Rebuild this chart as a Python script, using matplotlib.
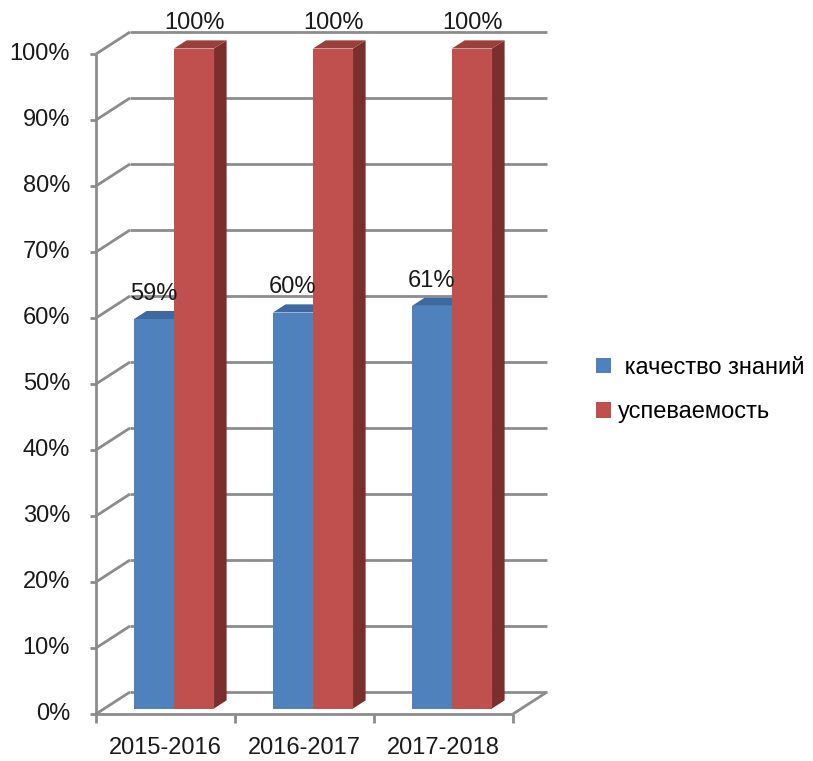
import numpy as np
import matplotlib.pyplot as plt
from matplotlib.patches import Polygon, Patch

# данные диаграммы
years = ["2015-2016", "2016-2017", "2017-2018"]
quality = [59, 60, 61]        # качество знаний, %
success = [100, 100, 100]     # успеваемость, %
series_names = [" качество знаний", "успеваемость"]
y_ticks = [0, 10, 20, 30, 40, 50, 60, 70, 80, 90, 100]

# цвета: лицевая грань, верх, бок
colors = [("#4F81BD", "#3E69A0", "#2F5383"),
          ("#C0504D", "#99403C", "#7B2F2D")]

# псевдо-3D: сдвиг глубины в единицах осей
DX = 34 / 139.0
DY = 22 / 6.6
FRONT, BACK = 0.25, 0.62
BAR_W = 0.288
FS = 17


def proj(u, v, d):
    return (u + d * DX, v + d * DY)


def draw_bar(ax, x0, val, cols):
    x1 = x0 + BAR_W
    front = [proj(x0, 0, FRONT), proj(x1, 0, FRONT), proj(x1, val, FRONT), proj(x0, val, FRONT)]
    top = [proj(x0, val, FRONT), proj(x1, val, FRONT), proj(x1, val, BACK), proj(x0, val, BACK)]
    side = [proj(x1, 0, FRONT), proj(x1, 0, BACK), proj(x1, val, BACK), proj(x1, val, FRONT)]
    ax.add_patch(Polygon(side, closed=True, fc=cols[2], ec="none", zorder=3))
    ax.add_patch(Polygon(top, closed=True, fc=cols[1], ec="none", zorder=3))
    ax.add_patch(Polygon(front, closed=True, fc=cols[0], ec="none", zorder=3))


def main():
    plt.rcParams['font.family'] = ['Liberation Sans', 'DejaVu Sans']
    fig = plt.figure(figsize=(8.13, 7.61), dpi=100)
    ax = fig.add_axes([0, 0, 1, 1])
    ax.set_xlim(-96 / 139.0, 717 / 139.0)
    ax.set_ylim(-47 / 6.6, 714 / 6.6)
    ax.axis("off")

    n = len(years)
    grid = dict(color="#8C8C8C", lw=2, zorder=1, solid_capstyle="butt")

    # стенка и сетка
    for t in y_ticks:
        x, y = zip(proj(0, t, 0), proj(0, t, 1))
        ax.plot(x, y, **grid)
        x, y = zip(proj(0, t, 1), proj(n, t, 1))
        ax.plot(x, y, **grid)
        ax.plot([-6 / 139.0, 0], [t, t], **grid)
        ax.text(-26 / 139.0, t, "{}%".format(t), ha="right", va="center",
                fontsize=FS, color="#1A1A1A")
    ax.plot([0, 0], [0, y_ticks[-1]], **grid)

    # пол
    ax.plot([0, n], [0, 0], **grid)
    x, y = zip(proj(n, 0, 0), proj(n, 0, 1))
    ax.plot(x, y, **grid)
    for i in range(n + 1):
        ax.plot([i, i], [0, -1.3], **grid)

    # столбцы и подписи
    for i in range(n):
        c = i + 0.5
        for j, vals in enumerate([quality, success]):
            x0 = c - BAR_W + j * BAR_W
            draw_bar(ax, x0, vals[i], colors[j])
            lx, ly = proj(x0 + BAR_W / 2, vals[i], FRONT)
            _, ty = proj(0, vals[i], BACK)
            ax.text(lx, ty + 2.6, "{}%".format(vals[i]), ha="center", va="center",
                    fontsize=FS, color="#1A1A1A", zorder=5)
        ax.text(c, -5.2, years[i], ha="center", va="center",
                fontsize=FS, color="#1A1A1A")

    handles = [Patch(fc=colors[k][0], ec="none") for k in range(2)]
    fig.legend(handles, series_names, loc="upper left", bbox_to_anchor=(0.733, 0.531),
               frameon=False, fontsize=FS, handlelength=0.62, handleheight=0.62,
               handletextpad=0.3, labelspacing=0.95, borderpad=0, borderaxespad=0)

    fig.savefig("out.png", dpi=100)


if __name__ == '__main__':
    main()
